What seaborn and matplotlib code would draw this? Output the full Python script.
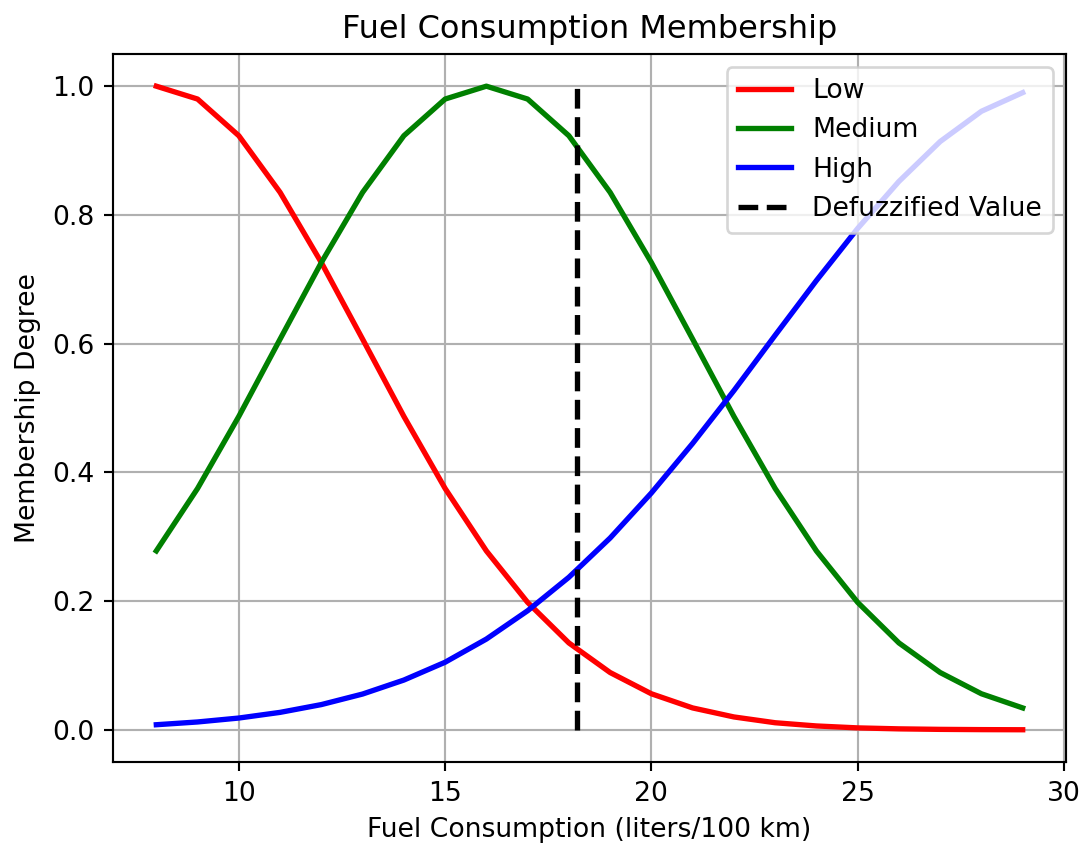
import matplotlib
matplotlib.use("Agg")
import matplotlib.pyplot as plt
import seaborn as sns
import pandas as pd

# Fuel consumption grid (liters/100 km)
fuel = list(range(8, 30))

# Membership degrees for each fuzzy set
low = [1.000, 0.980, 0.923, 0.835, 0.726, 0.607, 0.487, 0.375, 0.278, 0.198,
       0.135, 0.089, 0.056, 0.034, 0.020, 0.011, 0.006, 0.003, 0.0015, 0.0007,
       0.0003, 0.0001]
medium = [0.278, 0.375, 0.487, 0.607, 0.726, 0.835, 0.923, 0.980, 1.000, 0.980,
          0.923, 0.835, 0.726, 0.607, 0.487, 0.375, 0.278, 0.198, 0.135, 0.089,
          0.056, 0.034]
high = [0.0079, 0.0122, 0.0183, 0.0271, 0.0392, 0.0556, 0.0773, 0.105, 0.141,
        0.185, 0.237, 0.298, 0.368, 0.445, 0.527, 0.613, 0.698, 0.779, 0.852,
        0.914, 0.961, 0.990]

# Crisp output after defuzzification
defuzzified = 18.2

df = pd.DataFrame({"fuel": fuel, "Low": low, "Medium": medium, "High": high})

plt.rcParams["font.family"] = ["DejaVu Sans"]

fig = plt.figure(figsize=(1080 / 192, 845 / 192), dpi=192)
ax = fig.add_axes([113 / 1080, 1 - 762 / 845, (1066 - 113) / 1080, (762 - 54) / 845])

for name, color in [("Low", "red"), ("Medium", "green"), ("High", "blue")]:
    sns.lineplot(data=df, x="fuel", y=name, color=color, linewidth=2,
                 label=name, ax=ax)

ax.plot([defuzzified, defuzzified], [0, 1], color="black", linestyle="--",
        linewidth=2, label="Defuzzified Value")

ax.set_title("Fuel Consumption Membership", fontsize=12)
ax.set_xlabel("Fuel Consumption (liters/100 km)", fontsize=10)
ax.set_ylabel("Membership Degree", fontsize=10)
ax.grid(True)
ax.legend(loc="upper right")

fig.savefig("out.png", dpi=192)
